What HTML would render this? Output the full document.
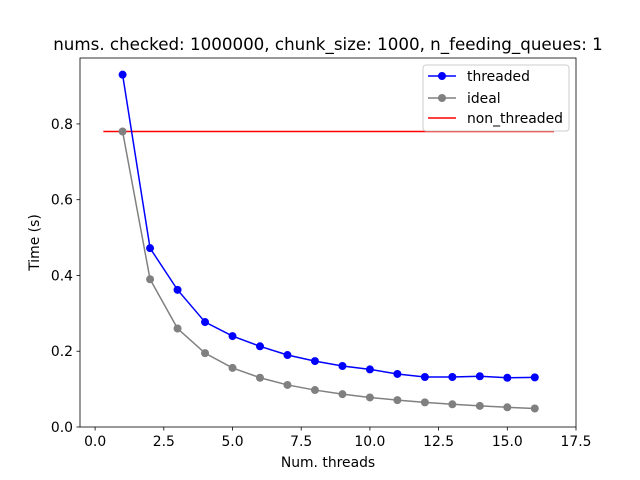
<!DOCTYPE html>
<html><head><meta charset="utf-8"><style>body{margin:0;background:#fff}svg{display:block;font-family:"DejaVu Sans","Liberation Sans",sans-serif}</style></head>
<body>
<svg id="chart" width="640" height="480">
<rect x="0" y="0" width="640" height="480" fill="#fff"/>
<text x="328" y="50" font-size="16.7" text-anchor="middle">nums. checked: 1000000, chunk_size: 1000, n_feeding_queues: 1</text>
<g id="plot"></g>
<rect x="80" y="58" width="496" height="369" fill="none" stroke="#000" stroke-width="0.8"/>
<text x="328" y="467" font-size="13.9" text-anchor="middle">Num. threads</text>
<text transform="translate(39,242.5) rotate(-90)" font-size="13.9" text-anchor="middle">Time (s)</text>
<g>
<rect x="423" y="65" width="146" height="66" fill="#fff" fill-opacity="0.8" stroke="#ccc" rx="3"/>
<line x1="428" y1="76" x2="456" y2="76" stroke="blue" stroke-width="1.5"/><circle cx="442" cy="76" r="4" fill="blue"/>
<text x="467" y="81" font-size="13.9">threaded</text>
<line x1="428" y1="98" x2="456" y2="98" stroke="gray" stroke-width="1.5"/><circle cx="442" cy="98" r="4" fill="gray"/>
<text x="467" y="103" font-size="13.9">ideal</text>
<line x1="428" y1="118" x2="456" y2="118" stroke="red" stroke-width="1.5"/>
<text x="467" y="123" font-size="13.9">non_threaded</text>
</g>
</svg>
<script>
const threads=[1,2,3,4,5,6,7,8,9,10,11,12,13,14,15,16];
const threaded=[0.93,0.472,0.362,0.277,0.240,0.213,0.190,0.174,0.161,0.152,0.140,0.132,0.132,0.134,0.130,0.131];
const ideal=[0.78,0.39,0.26,0.195,0.156,0.13,0.111,0.0975,0.0867,0.078,0.0709,0.065,0.06,0.0557,0.052,0.0488];
const nonThreaded=0.78;
const nonThreadedRange=[0.3,16.7];
const xTicks=[0,2.5,5,7.5,10,12.5,15,17.5];
const xTickLabels=["0.0","2.5","5.0","7.5","10.0","12.5","15.0","17.5"];
const yTicks=[0,0.2,0.4,0.6,0.8];
const yTickLabels=["0.0","0.2","0.4","0.6","0.8"];
const X0=80,X1=576,Y0=427,Y1=58,xmin=-0.55,xmax=17.5,ymin=0,ymax=0.974;
const sx=v=>X0+(v-xmin)/(xmax-xmin)*(X1-X0);
const sy=v=>Y0-(v-ymin)/(ymax-ymin)*(Y0-Y1);
const NS="http://www.w3.org/2000/svg";
const g=document.getElementById('plot');
function mk(t,a){const e=document.createElementNS(NS,t);for(const k in a)e.setAttribute(k,a[k]);g.appendChild(e);return e;}
xTicks.forEach((v,i)=>{
 const t=mk('line',{x1:sx(v),x2:sx(v),y1:Y0,y2:Y0+3.5,stroke:'#000','stroke-width':0.8});
 
 
 const l=mk('text',{x:sx(v),y:Y0+19,'font-size':13.9,'text-anchor':'middle'});l.textContent=xTickLabels[i];
 
 
});
yTicks.forEach((v,i)=>{
 const t=mk('line',{x1:X0-3.5,x2:X0,y1:sy(v),y2:sy(v),stroke:'#000','stroke-width':0.8});
 
 
 const l=mk('text',{x:X0-7,y:sy(v)+5,'font-size':13.9,'text-anchor':'end'});l.textContent=yTickLabels[i];
 
 
});
function series(vals,color,name){
 const p=mk('polyline',{points:threads.map((t,i)=>sx(t)+','+sy(vals[i])).join(' '),fill:'none',stroke:color,'stroke-width':1.5});
 
 
 vals.forEach((v,i)=>{const c=mk('circle',{cx:sx(threads[i]),cy:sy(v),r:4,fill:color});
 
 });
}
const nt=mk('line',{x1:sx(nonThreadedRange[0]),x2:sx(nonThreadedRange[1]),y1:sy(nonThreaded),y2:sy(nonThreaded),stroke:'red','stroke-width':1.5});


series(ideal,'gray','ideal');
series(threaded,'blue','threaded');
</script>
</body></html>
